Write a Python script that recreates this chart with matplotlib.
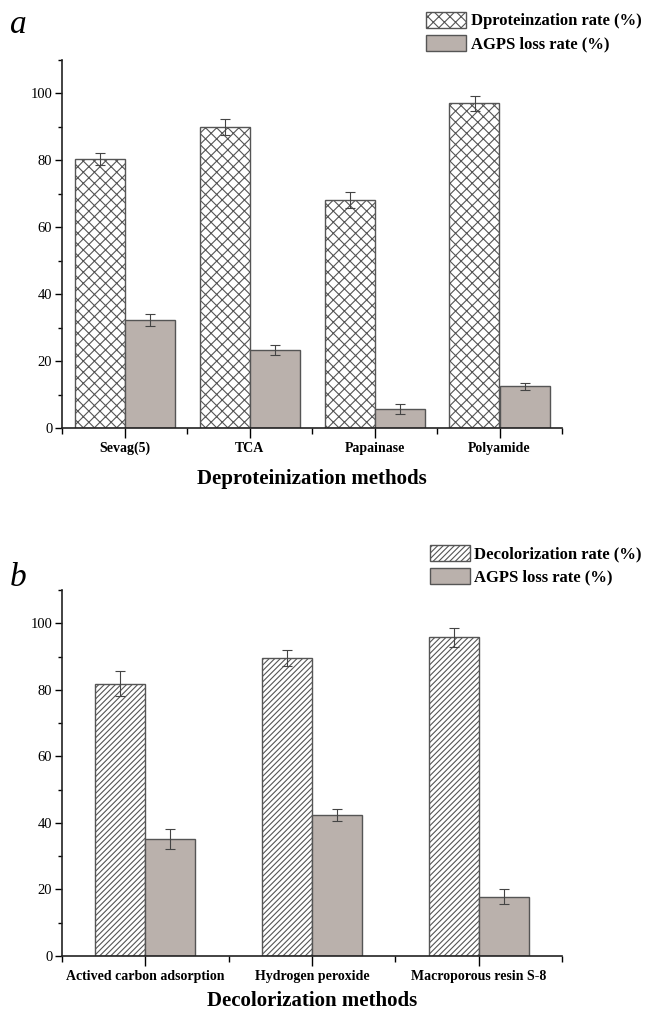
import numpy as np
import matplotlib.pyplot as plt
from matplotlib.patches import Patch
from matplotlib.ticker import MultipleLocator

plt.rcParams['font.family'] = ['Liberation Serif', 'DejaVu Serif']
plt.rcParams['hatch.color'] = '#7a7a7a'
plt.rcParams['hatch.linewidth'] = 0.8

# --- dados do painel a ---
metodos_a = ['Sevag(5)', 'TCA', 'Papainase', 'Polyamide']
deprot = [80.4, 90.0, 68.2, 97.0]
deprot_err = [1.8, 2.5, 2.4, 2.2]
perda_a = [32.4, 23.2, 5.7, 12.5]
perda_a_err = [1.8, 1.5, 1.5, 1.1]

# --- dados do painel b ---
metodos_b = ['Actived carbon adsorption', 'Hydrogen peroxide', 'Macroporous resin S-8']
decol = [81.8, 89.5, 95.8]
decol_err = [3.8, 2.4, 2.9]
perda_b = [35.3, 42.4, 17.8]
perda_b_err = [3.0, 1.7, 2.3]

CINZA = '#bab1ac'
BORDA = '#555555'

fig = plt.figure(figsize=(6.48, 10.15), dpi=100)
ax_a = fig.add_axes([62/648, 1-428/1015, 500/648, 368/1015])
ax_b = fig.add_axes([62/648, 1-956/1015, 500/648, 366/1015])


def desenhar(ax, nomes, v1, e1, v2, e2, larg, hatch, xlabel, lpad):
    x = np.arange(len(nomes))
    kw_err = dict(ecolor='#444444', elinewidth=0.8, capsize=3.5, capthick=0.8)
    ax.bar(x - larg/2, v1, larg, yerr=e1, color='white', edgecolor=BORDA,
           hatch=hatch, linewidth=1.0, error_kw=kw_err)
    ax.bar(x + larg/2, v2, larg, yerr=e2, color=CINZA, edgecolor=BORDA,
           linewidth=1.0, error_kw=kw_err)
    ax.set_xlim(-0.5, len(nomes) - 0.5)
    ax.set_ylim(0, 110)
    ax.set_yticks(range(0, 101, 20))
    ax.yaxis.set_minor_locator(MultipleLocator(10))
    ax.set_xticks(x)
    ax.set_xticks(np.arange(len(nomes) + 1) - 0.5, minor=True)
    ax.set_xticklabels(nomes, fontweight='bold', fontsize=10)
    ax.tick_params(axis='y', which='major', length=5, width=1, labelsize=10.5, pad=2)
    ax.tick_params(axis='y', which='minor', length=3, width=1)
    ax.tick_params(axis='x', which='major', length=7, width=1, pad=3)
    ax.tick_params(axis='x', which='minor', length=4, width=1)
    for s in ['top', 'right']:
        ax.spines[s].set_visible(False)
    for s in ['left', 'bottom']:
        ax.spines[s].set_linewidth(1.2)
        ax.spines[s].set_color('#222222')
    ax.set_xlabel(xlabel, fontsize=15, fontweight='bold', labelpad=lpad)


desenhar(ax_a, metodos_a, deprot, deprot_err, perda_a, perda_a_err, 0.4, 'xxx',
         'Deproteinization methods', 10)
desenhar(ax_b, metodos_b, decol, decol_err, perda_b, perda_b_err, 0.3, '//////',
         'Decolorization methods', 6)

fig.text(10/648, 1-25/1015, 'a', fontsize=24, style='italic', va='center')
fig.text(10/648, 1-578/1015, 'b', fontsize=24, style='italic', va='center')

leg_kw = dict(loc='upper right', frameon=False, prop={'weight': 'bold', 'size': 12},
              handlelength=2.4, handleheight=1.1, handletextpad=0.25, labelspacing=0.35,
              borderaxespad=0)
fig.legend([Patch(facecolor='white', edgecolor=BORDA, hatch='xxx'),
            Patch(facecolor=CINZA, edgecolor=BORDA)],
           ['Dproteinzation rate (%)', 'AGPS loss rate (%)'],
           bbox_to_anchor=(648/648, 1-5/1015), **leg_kw)
fig.legend([Patch(facecolor='white', edgecolor=BORDA, hatch='//////'),
            Patch(facecolor=CINZA, edgecolor=BORDA)],
           ['Decolorization rate (%)', 'AGPS loss rate (%)'],
           bbox_to_anchor=(648/648, 1-538/1015), **leg_kw)

fig.savefig('out.png', dpi=100)
